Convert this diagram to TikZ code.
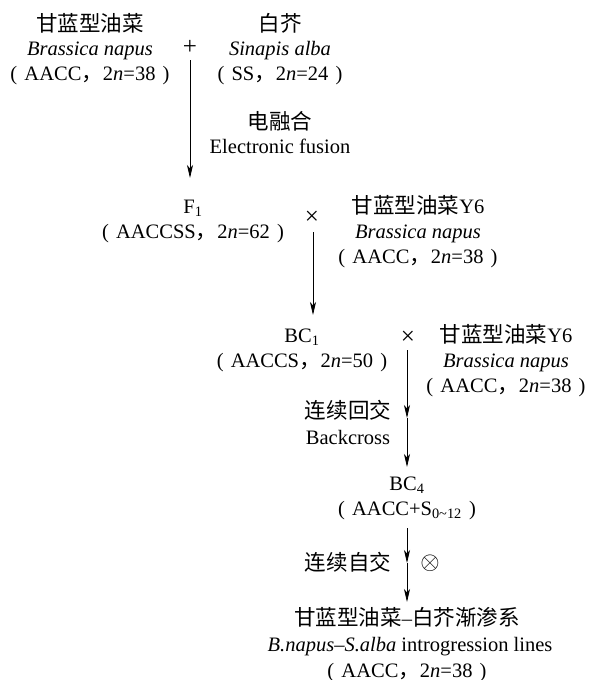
\documentclass[tikz,border=0pt]{standalone}
\usepackage{fontspec}
\setmainfont{Liberation Serif}
\newfontfamily\cjk[Scale=1.05]{Noto Sans CJK SC}
\usetikzlibrary{arrows.meta}
\newcommand{\lp}{(\kern0.35em}
\newcommand{\rp}{\kern0.35em)}
\newcommand{\cm}{{\cjk ，}}
\begin{document}
\begin{tikzpicture}[x=1pt,y=-1pt,
  lbl/.style={inner sep=0pt,anchor=base,font=\fontsize{20.5}{24}\selectfont},
  sym/.style={inner sep=0pt,anchor=center,font=\fontsize{25}{28}\selectfont},
  arr/.style={draw=black,line width=0.8pt,-{Stealth[length=13pt,width=6pt,inset=3.5pt]}}]
\useasboundingbox (0,0) rectangle (589,680);
% parents
\node[lbl] (n1a) at (90,31) {\cjk 甘蓝型油菜};
\node[lbl] (n1b) at (90,55) {\textit{Brassica napus}};
\node[lbl] (n1c) at (90,80) {\lp AACC\cm 2\textit{n}=38\rp};
\node[sym] (plus) at (190,47) {+};
\node[lbl] (n2a) at (280,31) {\cjk 白芥};
\node[lbl] (n2b) at (280,55) {\textit{Sinapis alba}};
\node[lbl] (n2c) at (280,80) {\lp SS\cm 2\textit{n}=24\rp};
\node[lbl] (fa) at (280,129) {\cjk 电融合};
\node[lbl] (fb) at (280,153) {Electronic fusion};
% F1
\node[lbl] (f1a) at (193,213) {F\textsubscript{1}};
\node[lbl] (f1b) at (193,238) {\lp AACCSS\cm 2\textit{n}=62\rp};
\node[sym] (x1) at (312,218) {×};
\node[lbl] (y1a) at (418,213) {{\cjk 甘蓝型油菜}Y6};
\node[lbl] (y1b) at (418,238) {\textit{Brassica napus}};
\node[lbl] (y1c) at (418,263) {\lp AACC\cm 2\textit{n}=38\rp};
% BC1
\node[lbl] (b1a) at (302,342) {BC\textsubscript{1}};
\node[lbl] (b1b) at (302,367) {\lp AACCS\cm 2\textit{n}=50\rp};
\node[sym] (x2) at (408,338) {×};
\node[lbl] (y2a) at (506,342) {{\cjk 甘蓝型油菜}Y6};
\node[lbl] (y2b) at (506,367) {\textit{Brassica napus}};
\node[lbl] (y2c) at (506,392) {\lp AACC\cm 2\textit{n}=38\rp};
\node[lbl] (bca) at (348,418) {\cjk 连续回交};
\node[lbl] (bcb) at (348,444) {Backcross};
% BC4
\node[lbl] (b4a) at (407,490) {BC\textsubscript{4}};
\node[lbl] (b4b) at (407,515) {\lp AACC+S\textsubscript{0\textasciitilde 12}\rp};
\node[lbl] (sa) at (348,570) {\cjk 连续自交};
\node[sym,font=\fontsize{30}{32}\selectfont] (ot) at (430,563) {$\otimes$};
% final
\node[lbl] (fin1) at (407,625) {{\cjk 甘蓝型油菜}--{\cjk 白芥渐渗系}};
\node[lbl] (fin2) at (410,651) {\textit{B.napus}--\textit{S.alba} introgression lines};
\node[lbl] (fin3) at (407,677) {\lp AACC\cm 2\textit{n}=38\rp};
% arrow coordinates
\coordinate (a1s) at (190,60);
\coordinate (a1e) at (190,178);
\coordinate (a2s) at (313,232);
\coordinate (a2e) at (313,315);
\coordinate (a3s) at (407,350);
\coordinate (a3m) at (407,418);
\coordinate (a3e) at (407,467);
\coordinate (a4s) at (407,528);
\coordinate (a4m) at (407,563);
\coordinate (a4e) at (407,602);
\draw[arr] (a1s) -- (a1e);
\draw[arr] (a2s) -- (a2e);
\draw[arr] (a3s) -- (a3m);
\draw[arr] (a3m) -- (a3e);
\draw[arr] (a4s) -- (a4m);
\draw[arr] (a4m) -- (a4e);
\end{tikzpicture}
\end{document}
